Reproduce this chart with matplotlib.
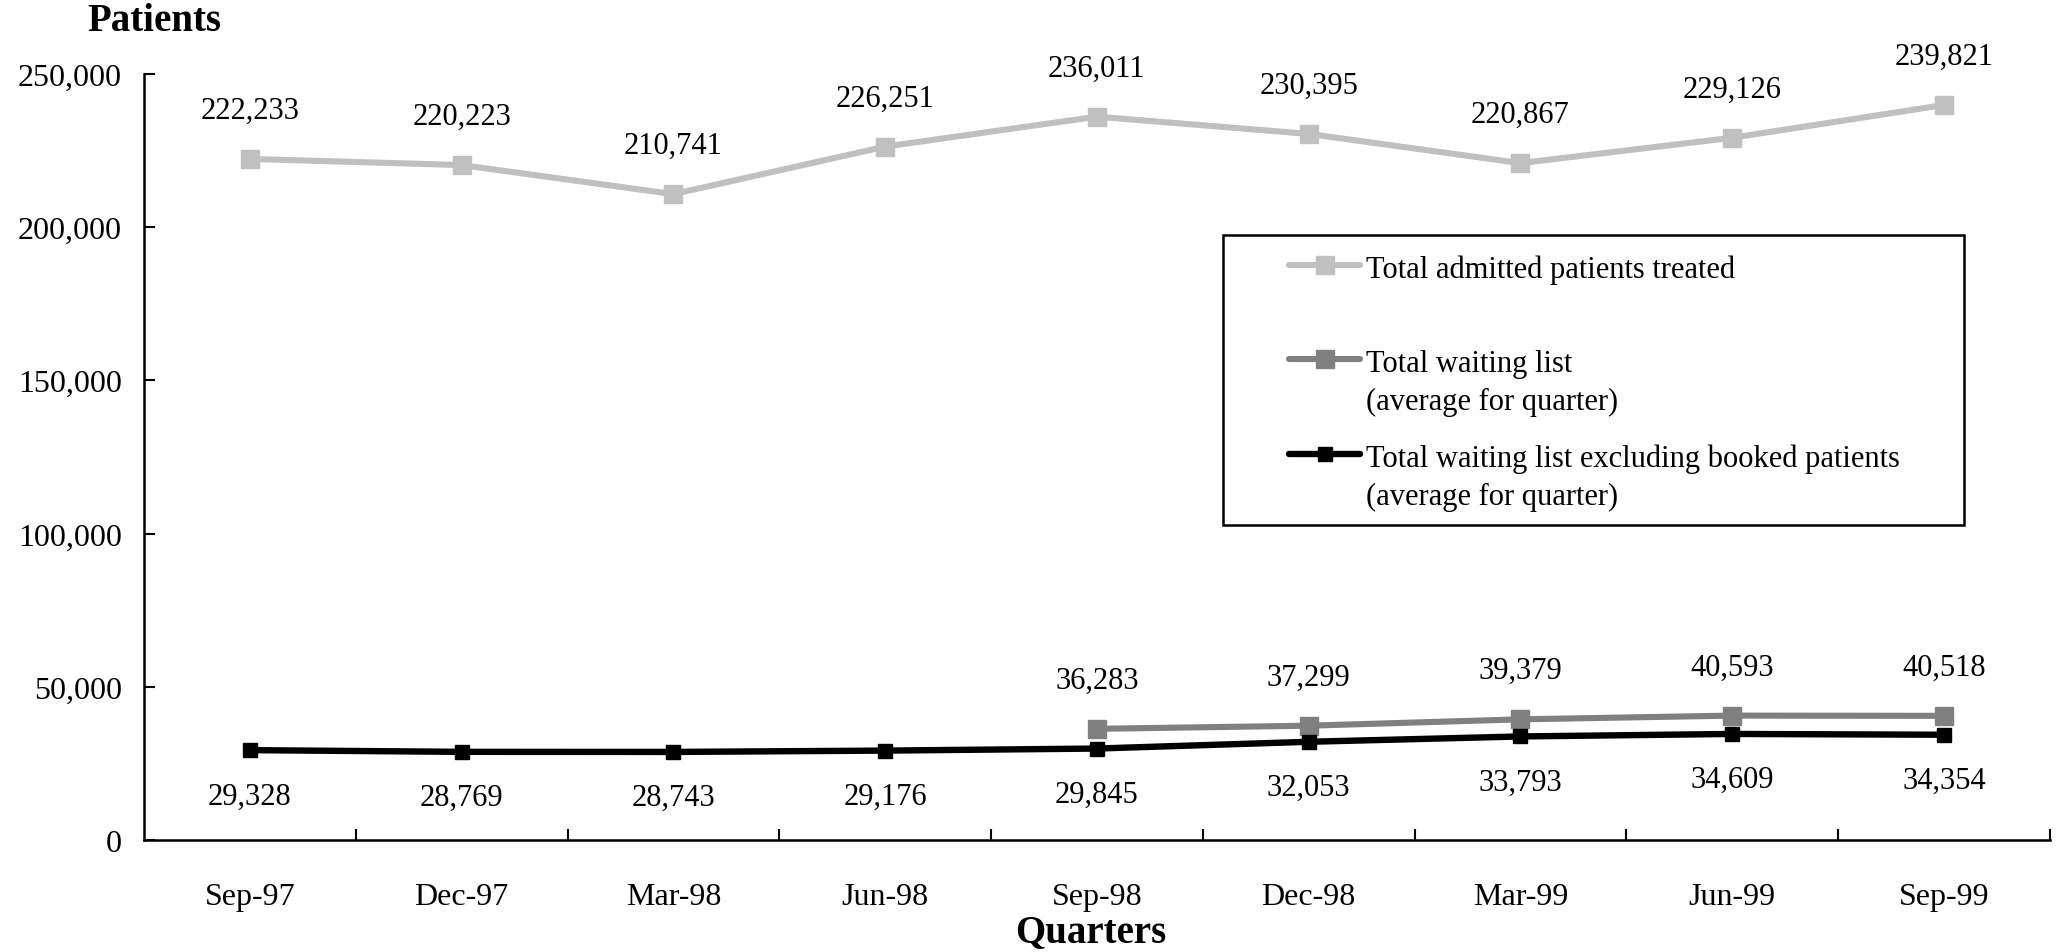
import numpy as np
import matplotlib
matplotlib.use("Agg")
import matplotlib.pyplot as plt
from matplotlib.lines import Line2D
from matplotlib.patches import Rectangle
from matplotlib.ticker import FuncFormatter, FixedLocator

plt.rcParams['font.family'] = ['Liberation Serif', 'DejaVu Serif']

# data
quarters = ['Sep-97', 'Dec-97', 'Mar-98', 'Jun-98', 'Sep-98',
            'Dec-98', 'Mar-99', 'Jun-99', 'Sep-99']
admitted = [222233, 220223, 210741, 226251, 236011, 230395, 220867, 229126, 239821]
waiting = [np.nan, np.nan, np.nan, np.nan, 36283, 37299, 39379, 40593, 40518]
excl_booked = [29328, 28769, 28743, 29176, 29845, 32053, 33793, 34609, 34354]

labels = ['Total admitted patients treated',
          'Total waiting list\n(average for quarter)',
          'Total waiting list excluding booked patients\n(average for quarter)']
colors = ['#c0c0c0', '#808080', '#000000']

fig = plt.figure(figsize=(20.58, 9.53), dpi=100)
ax = fig.add_axes([0.070, 0.1175, 0.926, 0.804])

x = np.arange(len(quarters))
ax.plot(x, admitted, color=colors[0], lw=4.4, marker='s', ms=13, zorder=3)
ax.plot(x, waiting, color=colors[1], lw=4.4, marker='s', ms=13, zorder=3)
ax.plot(x, excl_booked, color=colors[2], lw=4.6, marker='s', ms=10, zorder=4)

# value labels
for xi, v in zip(x, admitted):
    ax.annotate(f"{v:,}", (xi, v), xytext=(0, 35), textcoords='offset points',
                ha='center', va='center', fontsize=22)
for xi, v in zip(x, waiting):
    if not np.isnan(v):
        ax.annotate(f"{int(v):,}", (xi, v), xytext=(0, 35), textcoords='offset points',
                    ha='center', va='center', fontsize=22)
for xi, v in zip(x, excl_booked):
    ax.annotate(f"{v:,}", (xi, v), xytext=(0, -33), textcoords='offset points',
                ha='center', va='center', fontsize=22)

# axes styling
ax.set_xlim(-0.5, len(quarters) - 0.5)
ax.set_ylim(0, 250000)
ax.set_yticks(np.arange(0, 250001, 50000))
ax.yaxis.set_major_formatter(FuncFormatter(lambda v, p: f"{int(v):,}"))
ax.set_xticks(x)
ax.set_xticklabels(quarters)
ax.xaxis.set_minor_locator(FixedLocator(np.arange(0.5, len(quarters), 1.0)))
ax.tick_params(axis='x', which='major', length=0, pad=30, labelsize=23)
ax.tick_params(axis='x', which='minor', direction='in', length=8, width=1.5)
ax.tick_params(axis='y', direction='in', length=8, width=1.5, pad=16, labelsize=23)
for s in ['top', 'right']:
    ax.spines[s].set_visible(False)
for s in ['left', 'bottom']:
    ax.spines[s].set_linewidth(1.8)

# legend drawn by hand to keep handles on the first text line
ax.add_patch(Rectangle((0.566, 0.411), 0.389, 0.379, transform=ax.transAxes,
                       facecolor='white', edgecolor='black', lw=1.8, zorder=5))
handle_y = [0.751, 0.628, 0.504]
line_sizes = [(4.4, 13), (4.4, 13), (4.6, 10)]
for lab, c, hy, (lw, ms) in zip(labels, colors, handle_y, line_sizes):
    ax.add_line(Line2D([0.601, 0.638], [hy, hy], color=c, lw=lw, transform=ax.transAxes,
                       solid_capstyle='round', zorder=6))
    ax.add_line(Line2D([0.6195], [hy], color=c, marker='s', ms=ms, transform=ax.transAxes,
                       zorder=6))
    for k, part in enumerate(lab.split('\n')):
        ax.text(0.641, hy - 0.006 - k * 0.05, part, transform=ax.transAxes,
                ha='left', va='center', fontsize=22, zorder=6)

fig.text(0.075, 0.977, 'Patients', ha='center', va='center', fontsize=28, fontweight='bold')
fig.text(0.530, 0.021, 'Quarters', ha='center', va='center', fontsize=28, fontweight='bold')

fig.savefig('out.png', dpi=100)
